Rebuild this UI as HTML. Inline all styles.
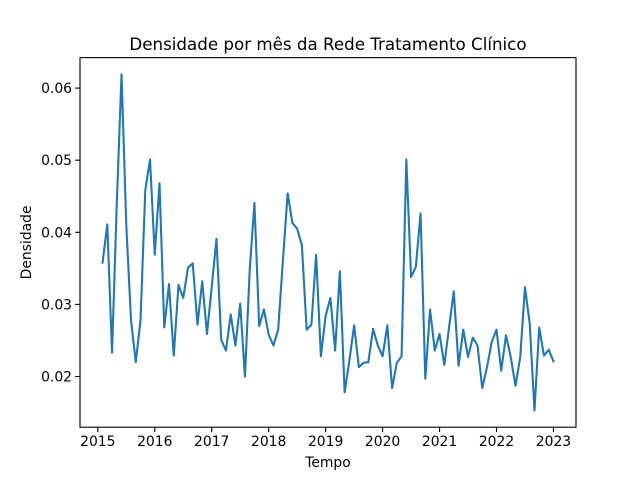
<!DOCTYPE html>
<html><head><meta charset="utf-8"><style>
body{margin:0;background:#fff;}
svg text{font-family:"DejaVu Sans","Liberation Sans",sans-serif;fill:#000;}
</style></head><body>
<svg width="640" height="480" viewBox="0 0 640 480" xmlns="http://www.w3.org/2000/svg">
<rect width="640" height="480" fill="#fff"/>
<text x="328" y="50" font-size="16.7" text-anchor="middle">Densidade por mês da Rede Tratamento Clínico</text>
<g id="axes"></g>
<path id="line" fill="none" stroke="#1f77b4" stroke-width="2.08" stroke-linejoin="round" stroke-linecap="square"/>
<rect x="80" y="57.6" width="496" height="369.6" fill="none" stroke="#000" stroke-width="1.1"/>
<text x="328" y="467" font-size="13.9" text-anchor="middle">Tempo</text>
<text transform="translate(31,242.4) rotate(-90)" font-size="13.9" text-anchor="middle">Densidade</text>
</svg>
<script>
const values=[0.0358,0.0411,0.0233,0.0440,0.0619,0.0410,0.0278,0.0220,0.0278,0.0458,0.0501,0.0369,0.0468,0.0268,0.0328,0.0229,0.0327,0.0309,0.0351,0.0357,0.0272,0.0332,0.0259,0.0324,0.0391,0.0251,0.0236,0.0286,0.0243,0.0301,0.0200,0.0347,0.0441,0.0270,0.0293,0.0258,0.0243,0.0265,0.0361,0.0454,0.0413,0.0405,0.0382,0.0265,0.0272,0.0369,0.0228,0.0284,0.0309,0.0236,0.0346,0.0178,0.0222,0.0271,0.0213,0.0219,0.0220,0.0266,0.0243,0.0228,0.0271,0.0184,0.0219,0.0228,0.0501,0.0338,0.0352,0.0426,0.0197,0.0293,0.0236,0.0259,0.0216,0.0268,0.0318,0.0215,0.0265,0.0227,0.0254,0.0243,0.0184,0.0213,0.0248,0.0265,0.0208,0.0257,0.0227,0.0187,0.0227,0.0324,0.0273,0.0153,0.0268,0.0229,0.0237,0.0221];
const startYear=2015, startMonth=2;
const xTicks=[2015,2016,2017,2018,2019,2020,2021,2022,2023];
const yTicks=[0.02,0.03,0.04,0.05,0.06];
const times=values.map((v,i)=>startYear+(startMonth-1+i)/12);
const t0=Math.min(...times),t1=Math.max(...times),ts=t1-t0;
const v0=Math.min(...values),v1=Math.max(...values),vs=v1-v0;
const xmin=t0-0.05*ts,xmax=t1+0.05*ts,ymin=v0-0.05*vs,ymax=v1+0.05*vs;
const L=80,R=576,T=57.6,B=427.2;
const X=t=>L+(t-xmin)/(xmax-xmin)*(R-L);
const Y=v=>B-(v-ymin)/(ymax-ymin)*(B-T);
const NS="http://www.w3.org/2000/svg";
const ax=document.getElementById('axes');
function mk(tag,attrs){const e=document.createElementNS(NS,tag);for(const k in attrs)e.setAttribute(k,attrs[k]);return e;}
xTicks.forEach(t=>{const x=X(t);
 const l=mk('line',{x1:x,x2:x,y1:B,y2:B+4.9,stroke:'#000','stroke-width':1.1});
 
 
 ax.appendChild(l);
 const tx=mk('text',{x:x,y:B+19,'font-size':13.9,'text-anchor':'middle'});tx.textContent=t;
 
 
 ax.appendChild(tx);});
yTicks.forEach(v=>{const y=Y(v);
 const l=mk('line',{x1:L-4.9,x2:L,y1:y,y2:y,stroke:'#000','stroke-width':1.1});
 
 
 ax.appendChild(l);
 const tx=mk('text',{x:L-8,y:y+5,'font-size':13.9,'text-anchor':'end'});tx.textContent=v.toFixed(2);
 
 
 ax.appendChild(tx);});
document.getElementById('line').setAttribute('d',values.map((v,i)=>(i?'L':'M')+X(times[i]).toFixed(2)+','+Y(v).toFixed(2)).join(''));
</script>
</body></html>
